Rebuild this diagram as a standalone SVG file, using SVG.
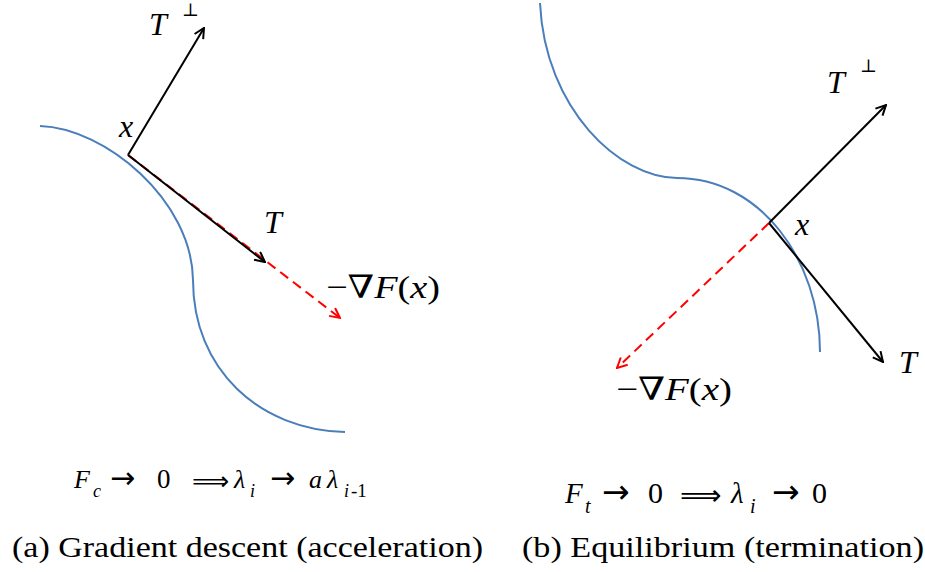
<svg xmlns="http://www.w3.org/2000/svg" width="925" height="572" viewBox="0 0 925 572">
  <style>
    .curve { fill: none; stroke: #4a7ebb; stroke-width: 2; }
    .vec { fill: none; stroke: #000; stroke-width: 2; marker-end: url(#ah); }
    .grad { fill: none; stroke: #ff0000; stroke-width: 2; stroke-dasharray: 10 6; marker-end: url(#ahr); }
    .lbl { font-family: 'Liberation Serif', 'DejaVu Serif', serif; font-style: italic; font-size: 32px; fill: #000; }
    .up { font-style: normal; }
    .perp { font-family: 'DejaVu Serif', 'Liberation Serif', serif; font-style: normal; font-size: 18px; fill: #000; }
    .sym { font-family: 'DejaVu Sans', sans-serif; font-style: normal; }
    .cap { font-family: 'Liberation Serif', 'DejaVu Serif', serif; font-size: 30px; fill: #000; }
  </style>
  <defs>
    <marker id="ah" viewBox="0 0 12 12" refX="11" refY="6" markerWidth="12" markerHeight="12" markerUnits="userSpaceOnUse" orient="auto">
      <path d="M1,1 L11,6 L1,11" fill="none" stroke="#000" stroke-width="2" stroke-dasharray="none"/>
    </marker>
    <marker id="ahr" viewBox="0 0 12 12" refX="11" refY="6" markerWidth="12" markerHeight="12" markerUnits="userSpaceOnUse" orient="auto">
      <path d="M1,1 L11,6 L1,11" fill="none" stroke="#ff0000" stroke-width="2" stroke-dasharray="none"/>
    </marker>
  </defs>
  <rect width="925" height="572" fill="#fff"/>

  <!-- Panel (a) -->
  <g id="curve-a">
    <path class="curve" d="M40,126 C105,128 192,200 193,280 C193,370 260,430 345,432"/>
  </g>
  <g id="connectors-a">
    <line class="vec" x1="128" y1="155" x2="204" y2="28"/>
    <line class="grad" x1="128" y1="155" x2="340" y2="318"/>
    <line class="vec" x1="128" y1="155" x2="265" y2="262"/>
  </g>
  <g id="labels-a">
    <text class="lbl" x="119" y="137">x</text>
    <text class="lbl" x="149" y="35">T</text>
    <text class="perp" x="182" y="16">⊥</text>
    <text class="lbl" x="264" y="233">T</text>
    <text class="lbl" x="326" y="298" textLength="114" lengthAdjust="spacingAndGlyphs"><tspan class="up">−∇</tspan>F<tspan class="up">(</tspan>x<tspan class="up">)</tspan></text>
  </g>
  <g id="formula-a">
    <text class="lbl" style="font-size:26px">
      <tspan x="74" y="488">F</tspan><tspan x="93" y="497" style="font-size:18px">c</tspan><tspan class="sym" x="110" y="488" style="font-size:30px">→</tspan><tspan class="up" x="157" y="488" style="font-size:27px">0</tspan><tspan class="sym" x="192" y="490" style="font-size:26px">⟹</tspan><tspan x="234" y="488">λ</tspan><tspan x="250" y="497" style="font-size:18px">i</tspan><tspan class="sym" x="270" y="488" style="font-size:30px">→</tspan><tspan x="309" y="488">a</tspan><tspan x="327" y="488">λ</tspan><tspan x="344" y="497" style="font-size:18px">i</tspan><tspan class="up" x="351" y="497" style="font-size:19px">-1</tspan>
    </text>
  </g>
  <g id="caption-a">
    <text class="cap" x="12" y="557" textLength="471" lengthAdjust="spacingAndGlyphs">(a) Gradient descent (acceleration)</text>
  </g>

  <!-- Panel (b) -->
  <g id="curve-b">
    <path class="curve" d="M540,3 C545,110 620,178 677,178 C760,178 820,260 820,352"/>
  </g>
  <g id="connectors-b">
    <line class="vec" x1="769" y1="223" x2="886" y2="105"/>
    <line class="grad" x1="769" y1="223" x2="617" y2="368"/>
    <line class="vec" x1="769" y1="223" x2="883" y2="362"/>
  </g>
  <g id="labels-b">
    <text class="lbl" x="795" y="235">x</text>
    <text class="lbl" x="827" y="93">T</text>
    <text class="perp" x="860" y="72">⊥</text>
    <text class="lbl" x="899" y="373">T</text>
    <text class="lbl" x="616" y="400" textLength="116" lengthAdjust="spacingAndGlyphs"><tspan class="up">−∇</tspan>F<tspan class="up">(</tspan>x<tspan class="up">)</tspan></text>
  </g>
  <g id="formula-b">
    <text class="lbl" style="font-size:29px">
      <tspan x="565" y="503">F</tspan><tspan x="585" y="513" style="font-size:20px">t</tspan><tspan class="sym" x="602" y="503" style="font-size:33px">→</tspan><tspan class="up" x="648" y="503" style="font-size:30px">0</tspan><tspan class="sym" x="680" y="505" style="font-size:29px">⟹</tspan><tspan x="731" y="503">λ</tspan><tspan x="750" y="513" style="font-size:20px">i</tspan><tspan class="sym" x="772" y="503" style="font-size:33px">→</tspan><tspan class="up" x="812" y="503" style="font-size:30px">0</tspan>
    </text>
  </g>
  <g id="caption-b">
    <text class="cap" x="522" y="557" textLength="402" lengthAdjust="spacingAndGlyphs">(b) Equilibrium (termination)</text>
  </g>
</svg>
